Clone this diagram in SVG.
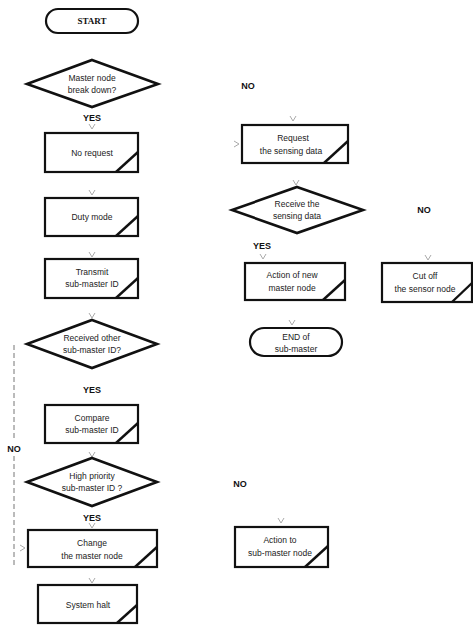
<svg xmlns="http://www.w3.org/2000/svg" width="473" height="635" viewBox="0 0 473 635">
<defs>
<style>
.bx{fill:#fff;stroke:#111;stroke-width:2.2}
.dm{fill:#fff;stroke:#111;stroke-width:2.6;stroke-linejoin:miter}
.sl{stroke:#111;stroke-width:2.4;fill:none}
.t{font-family:"Liberation Sans",Arial,sans-serif;font-size:8.5px;fill:#222;text-anchor:middle}
.ts{font-family:"Liberation Serif","Times New Roman",serif;font-size:9px;font-weight:bold;fill:#111;text-anchor:middle}
.lb{font-family:"Liberation Sans",Arial,sans-serif;font-size:9px;font-weight:bold;fill:#111;text-anchor:middle}
.tk{stroke:#aaa;stroke-width:1;fill:none}
.ds{stroke:#777;stroke-width:1;stroke-dasharray:5,3;fill:none}
</style>
</defs>
<rect width="473" height="635" fill="#fff"/>
<g id="connectors">
<path class="tk" d="M89,124 L92,129 L95,124"/>
<path class="tk" d="M89,190 L92,195 L95,190"/>
<path class="tk" d="M89,252 L92,257 L95,252"/>
<path class="tk" d="M89,313 L92,318 L95,313"/>
<path class="tk" d="M89,452 L92,457 L95,452"/>
<path class="tk" d="M89,523 L92,528 L95,523"/>
<path class="tk" d="M89,578 L92,583 L95,578"/>
<path class="ds" d="M14,345 L14,440 M14,456 L14,565"/>
<path class="tk" d="M20,545 L25,548 L20,551"/>
<path class="tk" d="M290,116 L293,121 L296,116"/>
<path class="tk" d="M234,141 L239,144 L234,147"/>
<path class="tk" d="M293,180 L296,185 L299,180"/>
<path class="tk" d="M260,254 L263,259 L266,254"/>
<path class="tk" d="M425,255 L428,260 L431,255"/>
<path class="tk" d="M289,320 L292,325 L295,320"/>
<path class="tk" d="M278,518 L281,523 L284,518"/>
<text class="lb" x="92" y="121">YES</text>
<text class="lb" x="92" y="393">YES</text>
<text class="lb" x="92" y="521">YES</text>
<text class="lb" x="14" y="452">NO</text>
<text class="lb" x="248" y="89">NO</text>
<text class="lb" x="424" y="213">NO</text>
<text class="lb" x="262" y="249">YES</text>
<text class="lb" x="240" y="487">NO</text>
</g>
<g id="start">
<rect class="bx" x="46" y="9" width="92" height="24" rx="12"/>
<text class="ts" x="92" y="24">START</text>
</g>
<g id="d1">
<polygon class="dm" points="92,60 158,84 92,107 27,84"/>
<text class="t" x="92" y="81">Master node</text>
<text class="t" x="92" y="93">break down?</text>
</g>
<g id="noRequest">
<rect class="bx" x="45" y="133" width="93" height="39"/>
<path class="sl" d="M116,172 L138,152"/>
<text class="t" x="92" y="156">No request</text>
</g>
<g id="dutyMode">
<rect class="bx" x="45" y="198" width="93" height="38"/>
<path class="sl" d="M116,236 L138,216"/>
<text class="t" x="92" y="220">Duty mode</text>
</g>
<g id="transmit">
<rect class="bx" x="45" y="259" width="93" height="39"/>
<path class="sl" d="M116,298 L138,278"/>
<text class="t" x="92" y="275">Transmit</text>
<text class="t" x="92" y="287">sub-master ID</text>
</g>
<g id="d2">
<polygon class="dm" points="92,320 157,344 92,368 27,344"/>
<text class="t" x="92" y="341">Received other</text>
<text class="t" x="92" y="353">sub-master ID?</text>
</g>
<g id="compare">
<rect class="bx" x="45" y="405" width="93" height="38"/>
<path class="sl" d="M116,443 L138,423"/>
<text class="t" x="92" y="421">Compare</text>
<text class="t" x="92" y="433">sub-master ID</text>
</g>
<g id="d3">
<polygon class="dm" points="92,458 157,482 92,506 27,482"/>
<text class="t" x="92" y="479">High priority</text>
<text class="t" x="92" y="491">sub-master ID ?</text>
</g>
<g id="change">
<rect class="bx" x="28" y="530" width="129" height="37"/>
<path class="sl" d="M135,567 L157,547"/>
<text class="t" x="92" y="546">Change</text>
<text class="t" x="92" y="559">the master node</text>
</g>
<g id="halt">
<rect class="bx" x="38" y="585" width="99" height="38"/>
<path class="sl" d="M117,623 L137,605"/>
<text class="t" x="88" y="608">System halt</text>
</g>
<g id="request">
<rect class="bx" x="242" y="125" width="106" height="38"/>
<path class="sl" d="M324,163 L348,141"/>
<text class="t" x="293" y="141">Request</text>
<text class="t" x="291" y="154">the sensing data</text>
</g>
<g id="d4">
<polygon class="dm" points="297,187 363,210 297,233 232,210"/>
<text class="t" x="297" y="207">Receive the</text>
<text class="t" x="297" y="219">sensing data</text>
</g>
<g id="newMaster">
<rect class="bx" x="245" y="263" width="100" height="37"/>
<path class="sl" d="M323,300 L345,280"/>
<text class="t" x="292" y="278">Action of new</text>
<text class="t" x="292" y="291">master node</text>
</g>
<g id="cutOff">
<rect class="bx" x="382" y="263" width="90" height="39"/>
<path class="sl" d="M452,302 L472,283"/>
<text class="t" x="425" y="279">Cut off</text>
<text class="t" x="425" y="292">the sensor node</text>
</g>
<g id="end">
<rect class="bx" x="250" y="328" width="92" height="28" rx="14"/>
<text class="t" x="296" y="340">END of</text>
<text class="t" x="296" y="352">sub-master</text>
</g>
<g id="actionSub">
<rect class="bx" x="235" y="527" width="93" height="40"/>
<path class="sl" d="M305,567 L328,546"/>
<text class="t" x="280" y="543">Action to</text>
<text class="t" x="280" y="556">sub-master node</text>
</g>
</svg>
